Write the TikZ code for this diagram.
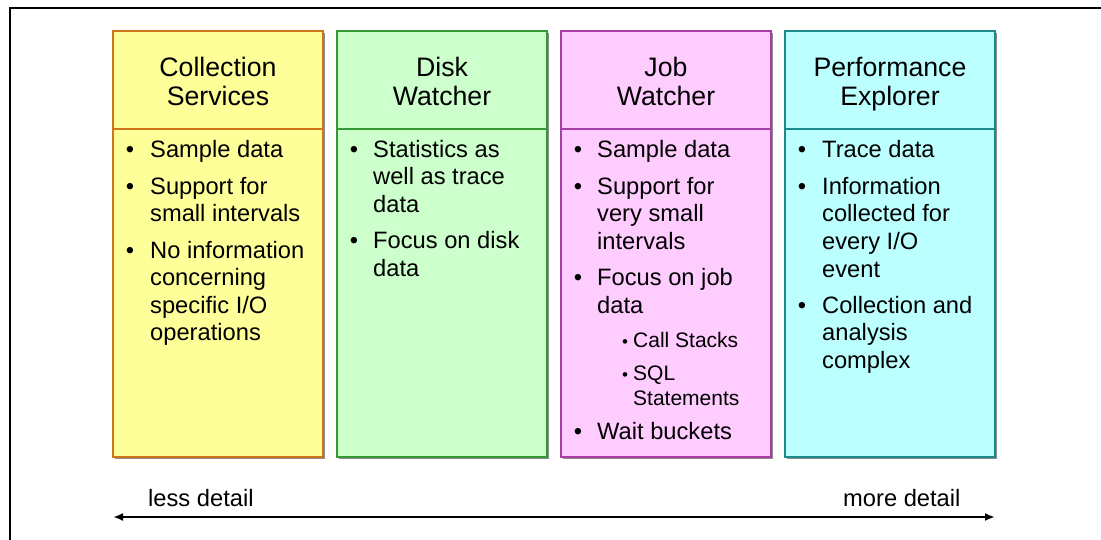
\documentclass[tikz,border=0pt]{standalone}
\usepackage{fontspec}
\setmainfont{Liberation Sans}
\usetikzlibrary{arrows.meta}
\newcommand\myIO{I/O}
\definecolor{fillA}{HTML}{FFFF99}\definecolor{lineA}{HTML}{D0741A}
\definecolor{fillB}{HTML}{CCFFCC}\definecolor{lineB}{HTML}{339933}
\definecolor{fillC}{HTML}{FFCCFF}\definecolor{lineC}{HTML}{A63CA6}
\definecolor{fillD}{HTML}{BBFFFF}\definecolor{lineD}{HTML}{1A8A8A}
\begin{document}
\begin{tikzpicture}[x=1pt,y=-1pt,
  txt/.style={anchor=base west,inner sep=0pt,yshift=-1.5pt,font=\fontsize{23.7}{27.5}\selectfont},
  sub/.style={anchor=base west,inner sep=0pt,yshift=-1.5pt,font=\fontsize{21}{25}\selectfont},
  bul/.style={anchor=base,inner sep=0pt,yshift=-1.5pt,font=\fontsize{23.7}{27.5}\selectfont},
  subbul/.style={anchor=base,inner sep=0pt,yshift=-1.5pt,font=\fontsize{17}{20}\selectfont},
  ttl/.style={anchor=base,inner sep=0pt,yshift=-2pt,font=\fontsize{26.7}{29}\selectfont},
  panel/.style={line width=2pt},
  shadowbox/.style={fill=black!45}]
\useasboundingbox (0,0) rectangle (1101,540);
% frame
\draw[line width=1.5pt] (10,540) -- (10,8) -- (1101,8);
% panels
\foreach \x/\c in {113/A,337/B,561/C,785/D}{
  \fill[shadowbox] (\x+2,33) rectangle (\x+212,459);
  \draw[panel,draw=line\c,fill=fill\c] (\x,31) rectangle (\x+210,457);
  \draw[panel,draw=line\c] (\x,129) -- (\x+210,129);
}
% titles
\node[ttl] (t1a) at (218,74.5) {Collection};
\node[ttl] (t1b) at (218,103.5) {Services};
\node[ttl] (t2a) at (442,74.5) {Disk};
\node[ttl] (t2b) at (442,103.5) {Watcher};
\node[ttl] (t3a) at (666,74.5) {Job};
\node[ttl] (t3b) at (666,103.5) {Watcher};
\node[ttl] (t4a) at (890,74.5) {Performance};
\node[ttl] (t4b) at (890,103.5) {Explorer};
% box 1
\foreach \y [count=\i] in {156,193,257} \node[bul] (b1\i) at (130,\y) {•};
\foreach \t/\y [count=\i] in {Sample data/156,Support for/193,small intervals/220.5,No information/257,concerning/284.5,specific \myIO/312,operations/339.5}
  \node[txt] (l1\i) at (150,\y) {\t};
% box 2
\foreach \y [count=\i] in {156,247.5} \node[bul] (b2\i) at (354,\y) {•};
\foreach \t/\y [count=\i] in {Statistics as/156,well as trace/183.5,data/211,Focus on disk/247.5,data/275}
  \node[txt] (l2\i) at (373,\y) {\t};
% box 3
\foreach \y [count=\i] in {156,193,284.5,438} \node[bul] (b3\i) at (578,\y) {•};
\foreach \t/\y [count=\i] in {Sample data/156,Support for/193,very small/220.5,intervals/248,Focus on job/284.5,data/312,Wait buckets/438}
  \node[txt] (l3\i) at (597,\y) {\t};
\foreach \y [count=\i] in {346,379} \node[subbul] (s3\i) at (625,\y) {•};
\foreach \t/\y [count=\i] in {Call Stacks/346,SQL/379,Statements/404}
  \node[sub] (m3\i) at (633,\y) {\t};
% box 4
\foreach \y [count=\i] in {156,193,312} \node[bul] (b4\i) at (802,\y) {•};
\foreach \t/\y [count=\i] in {Trace data/156,Information/193,collected for/220.5,every \myIO/248,event/275.5,Collection and/312,analysis/339.5,complex/367}
  \node[txt] (l4\i) at (822,\y) {\t};
% arrow
\coordinate (aL) at (113,517);
\coordinate (aR) at (995,517);
\draw[line width=2.5pt,{Latex[length=10pt,width=8pt]}-{Latex[length=10pt,width=8pt]}] (aL) -- (aR);
\node[txt] (less) at (148,505) {less detail};
\node[txt] (more) at (843,505) {more detail};
\end{tikzpicture}
\end{document}
